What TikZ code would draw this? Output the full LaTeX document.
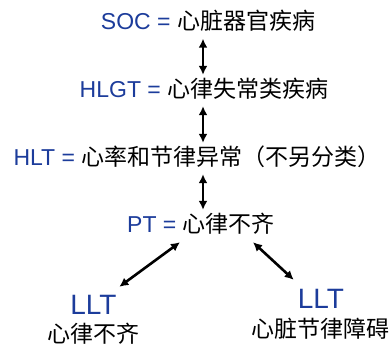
\documentclass[tikz,border=0pt]{standalone}
\usepackage{fontspec}
\setmainfont{Liberation Sans}
\newfontfamily\cjk{Noto Sans CJK SC}
\usetikzlibrary{arrows.meta}
\definecolor{blu}{RGB}{28,60,155}
\tikzset{
  lvl/.style={anchor=base, inner xsep=0pt, inner ysep=4pt, text height=18pt, text depth=5pt,
    font=\fontsize{23}{27}\selectfont},
  lltlabel/.style={anchor=base, inner sep=0pt, text height=20pt, text depth=0pt,
    font=\fontsize{28}{32}\selectfont, text=blu},
  cjklabel/.style={anchor=base, inner sep=0pt, font=\fontsize{23}{27}\selectfont\cjk},
  link/.style={line width=2.6pt, {Latex[length=9pt,width=9pt]}-{Latex[length=9pt,width=9pt]}}
}
\begin{document}
\begin{tikzpicture}[x=1pt,y=-1pt]
\useasboundingbox[fill=white] (0,0) rectangle (390,345);
\node[lvl] (soc) at (208,29.5) {{\color{blu}SOC =} {\cjk 心脏器官疾病}};
\node[lvl] (hlgt) at (204,97) {{\color{blu}HLGT =} {\cjk 心律失常类疾病}};
\node[lvl] (hlt) at (197,165) {{\color{blu}HLT =} {\cjk 心率和节律异常（不另分类）}};
\node[lvl] (pt) at (201,232) {{\color{blu}PT =} {\cjk 心律不齐}};
\node[lltlabel] (lltL) at (93.5,314) {LLT};
\node[lltlabel] (lltR) at (321,308) {LLT};
\node[cjklabel] (nameL) at (93.5,342) {心律不齐};
\node[cjklabel] (nameR) at (320,337.5) {心脏节律障碍};
\draw[link] ([xshift=-5pt]soc.south) -- ([xshift=-1pt]hlgt.north);
\draw[link] ([xshift=-1pt]hlgt.south) -- ([xshift=6pt]hlt.north);
\draw[link] ([xshift=6pt]hlt.south) -- ([xshift=2pt]pt.north);
\draw[link] ([xshift=-21pt,yshift=-1pt]pt.south) -- ([xshift=2.5pt,yshift=7pt]lltL.north east);
\draw[link] ([xshift=52pt,yshift=-1pt]pt.south) -- ([xshift=-4pt,yshift=8pt]lltR.north west);
\end{tikzpicture}
\end{document}
